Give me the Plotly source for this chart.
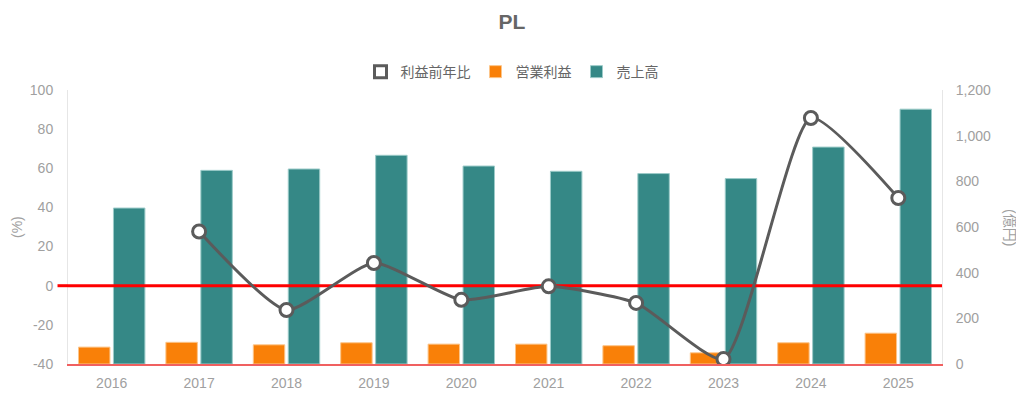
import plotly.graph_objects as go

years = ["2016", "2017", "2018", "2019", "2020", "2021", "2022", "2023", "2024", "2025"]
sales = [683, 848, 854, 914, 867, 844, 834, 812, 950, 1116]          # 売上高 (億円)
op_profit = [74, 95, 84, 93, 87, 87, 80, 49, 93, 135]                # 営業利益 (億円)
profit_yoy = [None, 27.7, -12.4, 11.6, -7.2, -0.3, -8.8, -37.5, 85.7, 44.8]  # 利益前年比 (%)

pct_ticks = [-40, -20, 0, 20, 40, 60, 80, 100]
pct_labels = ["-40", "-20", "0", "20", "40", "60", "80", "100"]

name_yoy = "利益前年比"
name_op = "営業利益"
name_sales = "売上高"
title_text = "PL"
left_title = "(%)"
right_title = "(億円)"

FONT = "Liberation Sans, Arial, Noto Sans CJK JP, sans-serif"
GRAY_TICK = "#a0a0a0"
GRAY_TEXT = "#666666"
LINE_GRAY = "#5b5b5b"

xpos = list(range(len(years)))
x_lo, x_hi = -0.5, len(years) - 0.5

fig = go.Figure()

# Legend-only proxy for the line series (hollow box like the original)
fig.add_trace(go.Bar(
    x=xpos, y=[None] * len(years), name=name_yoy, yaxis="y2",
    marker=dict(color="white", line=dict(color=LINE_GRAY, width=3)),
    showlegend=True, hoverinfo="skip",
))
fig.add_trace(go.Bar(
    x=xpos, y=op_profit, name=name_op, yaxis="y",
    marker=dict(color="#f98008", line=dict(color="#fcc58a", width=1)),
))
fig.add_trace(go.Bar(
    x=xpos, y=sales, name=name_sales, yaxis="y",
    marker=dict(color="#358886", line=dict(color="#9ccbc9", width=1)),
))
# zero reference line on the % axis (drawn above bars, below the ratio line)
fig.add_trace(go.Scatter(
    x=[x_lo, x_hi], y=[0, 0], yaxis="y2", mode="lines",
    line=dict(color="#ff0000", width=3), showlegend=False, hoverinfo="skip",
))
fig.add_trace(go.Scatter(
    x=xpos, y=profit_yoy, name=name_yoy, yaxis="y2", mode="lines+markers",
    line=dict(color=LINE_GRAY, width=3, shape="spline", smoothing=0.55),
    marker=dict(size=13, color="white", line=dict(color=LINE_GRAY, width=3)),
    connectgaps=False, showlegend=False,
))

# The page body adds an 8px offset, so the figure is 8px smaller than the window.
fig.update_layout(
    width=1016, height=391,
    margin=dict(l=60, r=82, t=82, b=34.5, autoexpand=False),
    paper_bgcolor="white", plot_bgcolor="white",
    font=dict(family=FONT, color=GRAY_TEXT, size=13),
    title=dict(text="<b>" + title_text + "</b>", x=(512 - 8 - 60) / 874, xref="paper", xanchor="center",
               y=1 - 14 / 391, yanchor="middle",
               font=dict(size=21, color=GRAY_TEXT, family=FONT)),
    barmode="group", bargap=0.2, bargroupgap=0.1,
    legend=dict(orientation="h", x=(512 - 8 - 60) / 874, xanchor="center", y=1 + 18 / 274.5, yanchor="middle",
                font=dict(size=14, color=GRAY_TEXT), traceorder="normal"),
    xaxis=dict(range=[x_lo, x_hi], tickvals=xpos, ticktext=years, showgrid=False,
               showline=True, linecolor="#f06060", linewidth=1.5,
               ticks="", tickfont=dict(size=14, color=GRAY_TICK), zeroline=False, ticklabelstandoff=5),
    yaxis=dict(range=[0, 1200], dtick=200, side="right", showgrid=False, zeroline=False,
               showline=True, linecolor="#e6e6e6", linewidth=1, tickformat=",",
               tickfont=dict(size=14, color=GRAY_TICK), ticks="", ticklabelstandoff=10),
    yaxis2=dict(range=[-40, 100], tickvals=pct_ticks, ticktext=pct_labels, overlaying="y", side="left",
                showgrid=False, zeroline=False, showline=True, linecolor="#e6e6e6", linewidth=1,
                tickfont=dict(size=14, color=GRAY_TICK), ticks="", ticklabelstandoff=11),
    shapes=[dict(type="line", xref="paper", yref="y2", x0=-0.012, x1=0, y0=0, y1=0,
                 line=dict(color="#ff0000", width=3), layer="above")],
    annotations=[
        dict(text=left_title, xref="paper", yref="paper", x=(17 - 68) / 874, y=0.5, xanchor="center",
             yanchor="middle", textangle=-90, showarrow=False, font=dict(size=14, color=GRAY_TICK)),
        dict(text=right_title, xref="paper", yref="paper", x=(1010 - 68) / 874, y=0.5, xanchor="center",
             yanchor="middle", textangle=90, showarrow=False, font=dict(size=14, color=GRAY_TICK)),
    ],
)

fig.write_html("out.html")
